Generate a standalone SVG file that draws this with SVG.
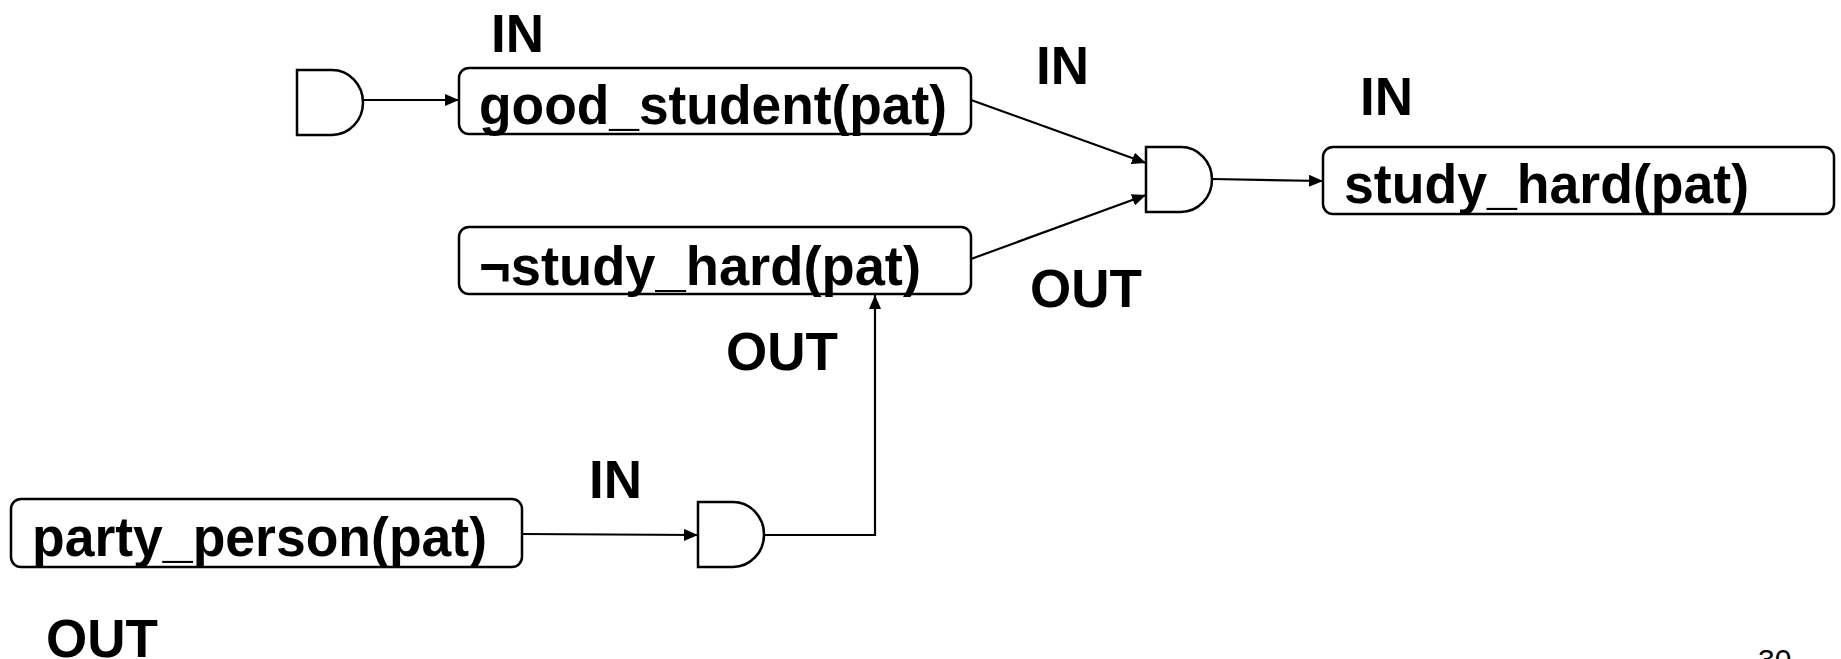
<svg xmlns="http://www.w3.org/2000/svg" width="1841" height="659" viewBox="0 0 1841 659">
<style>
.box{fill:#fff;stroke:#000;stroke-width:2.5}
.gate{fill:#fff;stroke:#000;stroke-width:2.5}
.t{font-family:"Liberation Sans",Arial,sans-serif;font-weight:bold;font-size:55px;fill:#000}
.lbl{font-family:"Liberation Sans",Arial,sans-serif;font-weight:bold;font-size:53px;fill:#000}
.num{font-family:"Liberation Sans",Arial,sans-serif;font-size:30px;fill:#000}
.c{fill:none;stroke:#000;stroke-width:2.2}
</style>
<defs>
<marker id="ah" markerUnits="userSpaceOnUse" markerWidth="16" markerHeight="12" refX="14" refY="6" orient="auto">
<path d="M0,0 L14,6 L0,12 z" fill="#000"/>
</marker>
</defs>
<rect width="1841" height="659" fill="#fff"/>
<g id="connectors">
<path class="c" d="M363,100 L459,100" marker-end="url(#ah)"/>
<path class="c" d="M971,100 L1146,163" marker-end="url(#ah)"/>
<path class="c" d="M971,259 L1146,195" marker-end="url(#ah)"/>
<path class="c" d="M1212,179 L1323,181" marker-end="url(#ah)"/>
<path class="c" d="M522,534 L698,535" marker-end="url(#ah)"/>
<path class="c" d="M764,535 L875,535 L875,295" marker-end="url(#ah)"/>
</g>
<g id="gate1"><path class="gate" d="M297,70 H332 A31,32.5 0 0 1 332,135 H297 Z"/></g>
<g id="gate2"><path class="gate" d="M1146,147 H1181 A31,32.5 0 0 1 1181,212 H1146 Z"/></g>
<g id="gate3"><path class="gate" d="M698,502 H733 A31,32.5 0 0 1 733,567 H698 Z"/></g>
<g id="good_student">
<rect class="box" x="459" y="68" width="512" height="66" rx="10"/>
<text class="t" x="479" y="124" textLength="468" lengthAdjust="spacingAndGlyphs">good_student(pat)</text>
</g>
<g id="not_study_hard">
<rect class="box" x="459" y="227" width="512" height="67" rx="10"/>
<text class="t" x="479" y="285" textLength="442" lengthAdjust="spacingAndGlyphs">¬study_hard(pat)</text>
</g>
<g id="study_hard">
<rect class="box" x="1323" y="147" width="511" height="67" rx="10"/>
<text class="t" x="1344" y="203" textLength="405" lengthAdjust="spacingAndGlyphs">study_hard(pat)</text>
</g>
<g id="party_person">
<rect class="box" x="11" y="499" width="511" height="68" rx="10"/>
<text class="t" x="32" y="556" textLength="455" lengthAdjust="spacingAndGlyphs">party_person(pat)</text>
</g>
<g id="labels">
<text class="lbl" x="491" y="52">IN</text>
<text class="lbl" x="1036" y="84">IN</text>
<text class="lbl" x="1360" y="115">IN</text>
<text class="lbl" x="1030" y="307">OUT</text>
<text class="lbl" x="726" y="370">OUT</text>
<text class="lbl" x="589" y="498">IN</text>
<text class="lbl" x="46" y="657">OUT</text>
<text class="num" x="1758" y="670">30</text>
</g>
</svg>
